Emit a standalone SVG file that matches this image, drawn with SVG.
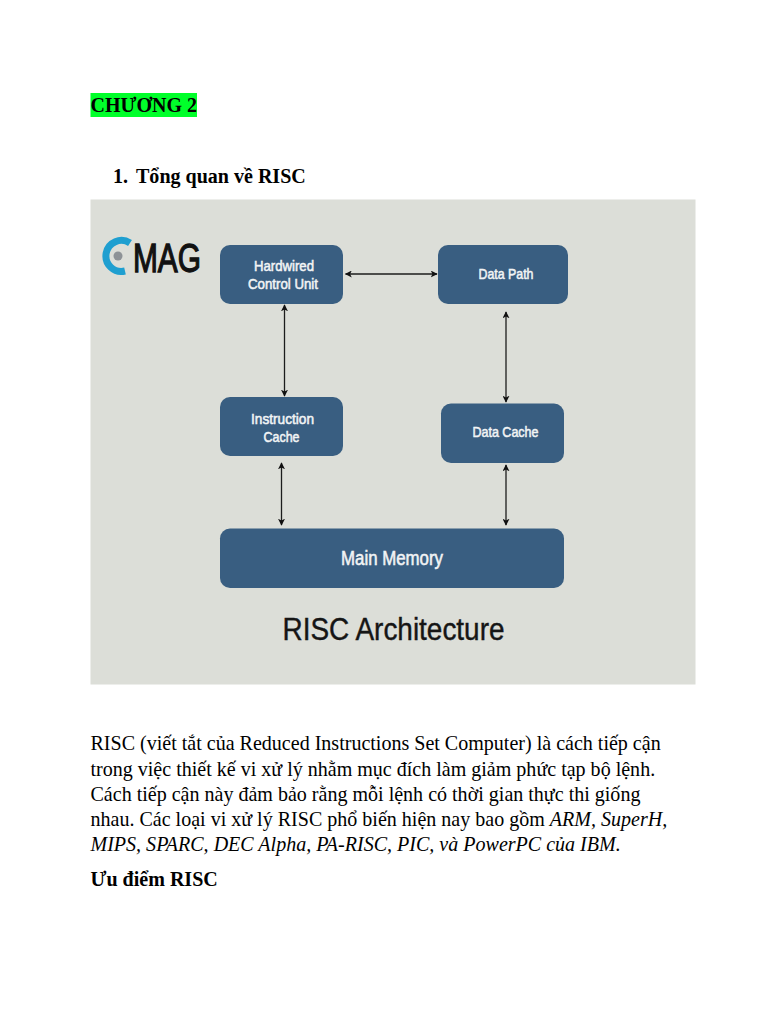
<svg xmlns="http://www.w3.org/2000/svg" width="768" height="1024" viewBox="0 0 768 1024">
<defs>
<marker id="a" viewBox="0 0 10 10" refX="9" refY="5" markerWidth="7" markerHeight="7" markerUnits="userSpaceOnUse" orient="auto-start-reverse"><path d="M0 0L10 5L0 10L2.5 5Z" fill="#111"/></marker>
</defs>
<style>
.doc{font-family:"Liberation Serif",serif;font-size:20.04px;fill:#000}
.b{font-weight:700}
.i{font-style:italic}
.box{fill:#395e81}
.lbl{font-family:"Liberation Sans",sans-serif;fill:#f2f4f5;font-size:15px;font-weight:400;stroke:#f2f4f5;stroke-width:.55}
.c{stroke:#1c1c1c;stroke-width:1.3;fill:none;marker-start:url(#a);marker-end:url(#a)}
</style>
<rect width="768" height="1024" fill="#fff"/>
<rect x="90.500" y="93" width="106.500" height="24" fill="#00ff2a"/>
<text class="doc b" x="90.500" y="112" textLength="106.500" lengthAdjust="spacingAndGlyphs">CHƯƠNG 2</text>
<text class="doc b" x="113" y="183">1.</text>
<text class="doc b" x="136" y="183">Tổng quan về RISC</text>
<rect x="90.500" y="199.500" width="605" height="485" fill="#dcded8"/>
<g id="logo">
<path d="M130 243A15.500 15.500 0 1 0 125 271" fill="none" stroke="#1f9fd0" stroke-width="7"/>
<circle cx="118" cy="256" r="4.500" fill="#8d9296"/>
<text x="133" y="272" font-family="'Liberation Sans',sans-serif" font-size="40" fill="#111" stroke="#111" stroke-width="1.300" textLength="68" lengthAdjust="spacingAndGlyphs">MAG</text>
</g>
<g id="connectors">
<line class="c" x1="345.500" y1="274" x2="437" y2="274"/>
<line class="c" x1="284.500" y1="305" x2="284.500" y2="396"/>
<line class="c" x1="506" y1="312" x2="506" y2="402"/>
<line class="c" x1="281.500" y1="463" x2="281.500" y2="525"/>
<line class="c" x1="506" y1="465" x2="506" y2="525"/>
</g>
<g id="hardwired"><rect class="box" x="220" y="245" width="123" height="59" rx="10"/><text class="lbl" x="254" y="271" textLength="60" lengthAdjust="spacingAndGlyphs">Hardwired</text><text class="lbl" x="248" y="289" textLength="70" lengthAdjust="spacingAndGlyphs">Control Unit</text></g>
<g id="datapath"><rect class="box" x="438" y="245" width="130" height="59" rx="10"/><text class="lbl" x="478.500" y="279" textLength="55" lengthAdjust="spacingAndGlyphs">Data Path</text></g>
<g id="instruction"><rect class="box" x="220" y="397" width="123" height="59" rx="10"/><text class="lbl" x="251" y="424" textLength="63" lengthAdjust="spacingAndGlyphs">Instruction</text><text class="lbl" x="263.500" y="442" textLength="36" lengthAdjust="spacingAndGlyphs">Cache</text></g>
<g id="datacache"><rect class="box" x="441" y="403.500" width="123" height="59.500" rx="10"/><text class="lbl" x="472.500" y="436.500" textLength="66" lengthAdjust="spacingAndGlyphs">Data Cache</text></g>
<g id="memory"><rect class="box" x="220" y="528.500" width="344" height="59.500" rx="10"/><text class="lbl" x="341" y="565" style="font-size:20px" textLength="102" lengthAdjust="spacingAndGlyphs">Main Memory</text></g>
<text x="282.500" y="640" font-family="'Liberation Sans',sans-serif" font-size="31" fill="#151515" stroke="#151515" stroke-width=".4" textLength="222" lengthAdjust="spacingAndGlyphs">RISC Architecture</text>
<text class="doc" x="90.500" y="750">RISC (viết tắt của Reduced Instructions Set Computer) là cách tiếp cận</text>
<text class="doc" x="90.500" y="776">trong việc thiết kế vi xử lý nhằm mục đích làm giảm phức tạp bộ lệnh.</text>
<text class="doc" x="90.500" y="801">Cách tiếp cận này đảm bảo rằng mỗi lệnh có thời gian thực thi giống</text>
<text class="doc" x="90.500" y="826">nhau. Các loại vi xử lý RISC phổ biến hiện nay bao gồm <tspan class="i">ARM, SuperH,</tspan></text>
<text class="doc i" x="90.500" y="851">MIPS, SPARC, DEC Alpha, PA-RISC, PIC, và PowerPC của IBM.</text>
<text class="doc b" x="90.500" y="886">Ưu điểm RISC</text>
</svg>
